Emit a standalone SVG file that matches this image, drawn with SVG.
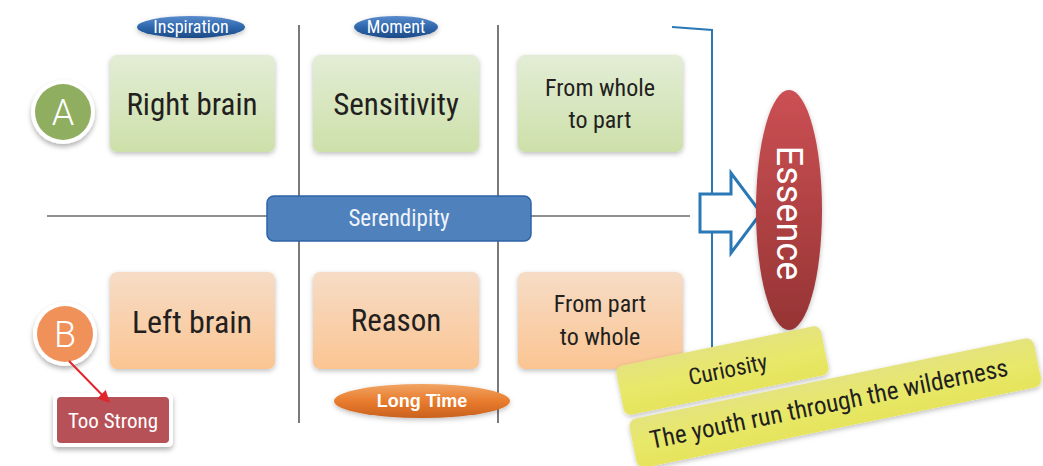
<svg xmlns="http://www.w3.org/2000/svg" width="1043" height="466" viewBox="0 0 1043 466">
  <style>
    .t { font-family: "Liberation Sans Narrow", "Roboto Condensed", Roboto, "Liberation Sans", sans-serif; fill: #231f20; text-anchor: middle; }
    .w { font-family: "Liberation Sans Narrow", "Roboto Condensed", Roboto, "Liberation Sans", sans-serif; fill: #ffffff; text-anchor: middle; }
    .r { font-family: Roboto, "Liberation Sans", sans-serif; fill: #ffffff; text-anchor: middle; }
    .grid { stroke: #231f20; stroke-width: 1.2; fill: none; }
    .green { fill: url(#gGreen); filter: url(#soft); }
    .orange { fill: url(#gOrange); filter: url(#soft); }
    .yellow { fill: url(#gYellow); filter: url(#soft); }
  </style>
  <defs>
    <linearGradient id="gGreen" x1="0" y1="0" x2="0" y2="1">
      <stop offset="0" stop-color="#e3edd6"/>
      <stop offset="1" stop-color="#cde0a9"/>
    </linearGradient>
    <linearGradient id="gOrange" x1="0" y1="0" x2="0" y2="1">
      <stop offset="0" stop-color="#f6dcc6"/>
      <stop offset="1" stop-color="#fbc592"/>
    </linearGradient>
    <linearGradient id="gYellow" x1="0" y1="0" x2="0" y2="1">
      <stop offset="0" stop-color="#e4e37e"/>
      <stop offset="0.5" stop-color="#e8e86a"/>
      <stop offset="1" stop-color="#e6e45c"/>
    </linearGradient>
    <linearGradient id="gBluePill" x1="0" y1="0" x2="0" y2="1">
      <stop offset="0" stop-color="#5a8ccd"/>
      <stop offset="0.5" stop-color="#2f67ad"/>
      <stop offset="1" stop-color="#1c4a86"/>
    </linearGradient>
    <linearGradient id="gOrangePill" x1="0" y1="0" x2="0" y2="1">
      <stop offset="0" stop-color="#f0a464"/>
      <stop offset="0.5" stop-color="#e97c2e"/>
      <stop offset="1" stop-color="#c9611e"/>
    </linearGradient>
    <linearGradient id="gRed" x1="0" y1="0" x2="0" y2="1">
      <stop offset="0" stop-color="#cb5054"/>
      <stop offset="1" stop-color="#963434"/>
    </linearGradient>
    <filter id="soft" x="-20%" y="-20%" width="140%" height="150%">
      <feDropShadow dx="0" dy="2" stdDeviation="2.5" flood-color="#000" flood-opacity="0.25"/>
    </filter>
    <filter id="ring" x="-30%" y="-30%" width="160%" height="170%">
      <feDropShadow dx="0" dy="3" stdDeviation="2.5" flood-color="#000" flood-opacity="0.3"/>
    </filter>
    <marker id="redArrow" viewBox="0 0 10 10" refX="9" refY="5" markerWidth="6" markerHeight="6" orient="auto">
      <path d="M0,0 L10,5 L0,10 z" fill="#e0262b"/>
    </marker>
  </defs>

  <!-- grid lines -->
  <g id="grid">
    <line class="grid" x1="299" y1="25" x2="299" y2="423"/>
    <line class="grid" x1="498" y1="25" x2="498" y2="423"/>
    <line class="grid" x1="47" y1="216" x2="690" y2="216"/>
  </g>

  <!-- upper row -->
  <g id="right-brain">
    <rect class="green" x="110" y="55" width="165" height="97" rx="7"/>
    <text class="t" x="192" y="115" font-size="31">Right brain</text>
  </g>
  <g id="sensitivity">
    <rect class="green" x="313" y="55" width="166" height="97" rx="7"/>
    <text class="t" x="396" y="115" font-size="31">Sensitivity</text>
  </g>
  <g id="whole-to-part">
    <rect class="green" x="518" y="55" width="165" height="97" rx="7"/>
    <text class="t" x="600" y="96" font-size="24">From whole</text>
    <text class="t" x="600" y="128" font-size="24">to part</text>
  </g>

  <!-- lower row -->
  <g id="left-brain">
    <rect class="orange" x="110" y="272" width="165" height="97" rx="7"/>
    <text class="t" x="192" y="333" font-size="32">Left brain</text>
  </g>
  <g id="reason">
    <rect class="orange" x="313" y="272" width="166" height="97" rx="7"/>
    <text class="t" x="396" y="331" font-size="31">Reason</text>
  </g>
  <g id="part-to-whole">
    <rect class="orange" x="518" y="272" width="165" height="97" rx="7"/>
    <text class="t" x="600" y="312" font-size="24">From part</text>
    <text class="t" x="600" y="345" font-size="24">to whole</text>
  </g>

  <!-- column labels -->
  <g id="inspiration">
    <ellipse cx="191" cy="27" rx="54" ry="11" fill="url(#gBluePill)" filter="url(#soft)"/>
    <text class="w" x="191" y="33" font-size="18">Inspiration</text>
  </g>
  <g id="moment">
    <ellipse cx="396" cy="27" rx="42" ry="11" fill="url(#gBluePill)" filter="url(#soft)"/>
    <text class="w" x="396" y="33" font-size="18">Moment</text>
  </g>
  <g id="long-time">
    <ellipse cx="422" cy="401" rx="88" ry="17" fill="url(#gOrangePill)" filter="url(#soft)"/>
    <text x="422" y="407" font-size="18" font-weight="bold" fill="#ffffff" text-anchor="middle" font-family="'Liberation Sans', Arial, sans-serif">Long Time</text>
  </g>

  <!-- axis label -->
  <g id="serendipity">
    <rect x="267" y="196" width="264" height="45" rx="7" fill="#4f81bd" stroke="#2e63a6" stroke-width="1.5"/>
    <text class="w" x="399" y="226" font-size="23" style="fill:#eef3fa">Serendipity</text>
  </g>

  <!-- row markers -->
  <g id="marker-a">
    <circle cx="63" cy="112" r="32" fill="#ffffff" filter="url(#ring)"/>
    <circle cx="63" cy="112" r="28" fill="#8fae5f"/>
    <text class="r" x="63" y="125" font-size="36" style="font-weight:300">A</text>
  </g>
  <g id="marker-b">
    <circle cx="65" cy="334" r="32" fill="#ffffff" filter="url(#ring)"/>
    <circle cx="65" cy="334" r="28" fill="#f0915a"/>
    <text class="r" x="65" y="347" font-size="36" style="font-weight:300">B</text>
  </g>
  <g id="too-strong">
    <rect x="53" y="393" width="120" height="54" rx="5" fill="#ffffff" filter="url(#ring)"/>
    <rect x="57" y="397" width="112" height="46" rx="4" fill="#b75158"/>
    <text class="w" x="113" y="428" font-size="21">Too Strong</text>
  </g>

  <!-- connectors -->
  <g id="connectors">
    <line x1="69" y1="361" x2="109" y2="402" stroke="#e0262b" stroke-width="2" marker-end="url(#redArrow)"/>
    <path d="M672,27 L712,30 L712,352" fill="none" stroke="#2a78b5" stroke-width="2"/>
    <path d="M700,194 L731,194 L731,173 L761,213 L731,253 L731,232 L700,232 Z" fill="#ffffff" stroke="#2a78b5" stroke-width="3" stroke-linejoin="miter"/>
  </g>

  <!-- result -->
  <g id="essence">
    <ellipse cx="789" cy="210" rx="33" ry="120" fill="url(#gRed)" filter="url(#soft)"/>
    <text class="r" x="0" y="0" font-size="36" style="font-weight:400" transform="translate(777,213) rotate(90)">Essence</text>
  </g>

  <!-- tilted notes -->
  <g id="curiosity" transform="translate(615,367) rotate(-11.6)">
    <rect class="yellow" x="0" y="0" width="209" height="50" rx="7"/>
    <text class="t" x="110" y="33" font-size="23">Curiosity</text>
  </g>
  <g id="youth" transform="translate(628,420) rotate(-11.6)">
    <rect class="yellow" x="0" y="0" width="413" height="50" rx="8"/>
    <text class="t" x="200" y="33" font-size="25">The youth run through the wilderness</text>
  </g>
</svg>
